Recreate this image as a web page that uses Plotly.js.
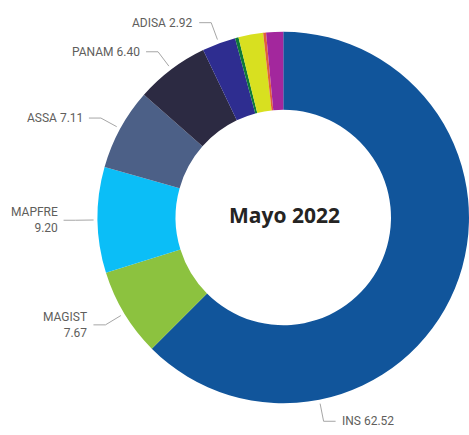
<!DOCTYPE html>
<html>
<head>
<meta charset="utf-8">
<script src="https://cdn.plot.ly/plotly-3.0.1.min.js"></script>
<style>html,body{margin:0;padding:0;background:#fff;}#chart{width:469px;height:435px;}</style>
</head>
<body>
<div id="chart"></div>
<script>
// ---- data ----
var categories = ["INS", "MAGIST", "MAPFRE", "ASSA", "PANAM", "ADISA", "OTRA1", "OTRA2", "OTRA3", "OTRA4"];
var values = [62.52, 7.67, 9.20, 7.11, 6.40, 2.92, 0.30, 2.15, 0.25, 1.48];
var labelTexts = ["INS 62.52", "MAGIST<br>7.67", "MAPFRE<br>9.20", "ASSA 7.11", "PANAM 6.40", "ADISA 2.92", "", "", "", ""];
var centerTitle = "Mayo 2022";

// ---- style ----
var colors = ["#11559B", "#8CC23F", "#0BBEF7", "#4C6087", "#2C2A42", "#2E2D90", "#0E7A38", "#D8E020", "#E0603A", "#A3279D"];
var labelAnchorFrac = [0.75, 0.5, 0.5, 0.5, 0.5, 0.5, 0.5, 0.5, 0.5, 0.5];
var W = 469, H = 435;
var domX = [0.208, 1.0], domY = [0.068, 0.932];
var hole = 0.58;

var cx = (domX[0] + domX[1]) / 2 * W;
var cy = (1 - (domY[0] + domY[1]) / 2) * H;
var R = Math.min((domX[1] - domX[0]) * W, (domY[1] - domY[0]) * H) / 2;

function px2paper(x, y) { return [x / W, 1 - y / H]; }

var total = values.reduce(function (a, b) { return a + b; }, 0);
var shapes = [], annotations = [];
var cum = 0;
for (var i = 0; i < values.length; i++) {
  var start = cum;
  cum += values[i];
  if (!labelTexts[i]) continue;
  var frac = (start + values[i] * labelAnchorFrac[i]) / total;
  var th = frac * 2 * Math.PI; // clockwise from top
  var s = Math.sin(th), c = Math.cos(th);
  var r1 = R + 4, r2 = R + 22;
  var p1 = [cx + r1 * s, cy - r1 * c];
  var p2 = [cx + r2 * s, cy - r2 * c];
  var dir = s >= 0 ? 1 : -1;
  var p3 = [p2[0] + dir * 12, p2[1]];
  var a = px2paper(p1[0], p1[1]), b = px2paper(p2[0], p2[1]), d = px2paper(p3[0], p3[1]);
  shapes.push({
    type: "path", xref: "paper", yref: "paper",
    path: "M " + a[0] + "," + a[1] + " L " + b[0] + "," + b[1] + " L " + d[0] + "," + d[1],
    line: { color: "#A6A6A6", width: 1 }
  });
  var t = px2paper(p3[0] + dir * 4, p3[1]);
  annotations.push({
    xref: "paper", yref: "paper", x: t[0], y: t[1],
    text: labelTexts[i], showarrow: false,
    xanchor: dir > 0 ? "left" : "right", yanchor: "middle",
    align: dir > 0 ? "left" : "right",
    font: { family: "Roboto, 'DejaVu Sans Condensed', sans-serif", size: 12, color: "#605E5C" }
  });
}
annotations.push({
  xref: "paper", yref: "paper", x: (cx + 1) / W, y: 1 - (cy - 2) / H,
  text: "<b>" + centerTitle + "</b>", showarrow: false,
  xanchor: "center", yanchor: "middle",
  font: { family: "'Open Sans', 'DejaVu Sans', sans-serif", size: 21, color: "#252423" }
});

var trace = {
  type: "pie",
  labels: categories,
  values: values,
  sort: false,
  direction: "clockwise",
  rotation: 0,
  hole: hole,
  textinfo: "none",
  hoverinfo: "label+value",
  marker: { colors: colors, line: { width: 0 } },
  domain: { x: domX, y: domY },
  showlegend: false
};

var layout = {
  width: W, height: H,
  margin: { l: 0, r: 0, t: 0, b: 0 },
  paper_bgcolor: "#ffffff",
  plot_bgcolor: "#ffffff",
  showlegend: false,
  shapes: shapes,
  annotations: annotations
};

Plotly.newPlot("chart", [trace], layout, { displayModeBar: false, staticPlot: true });
</script>
</body>
</html>
